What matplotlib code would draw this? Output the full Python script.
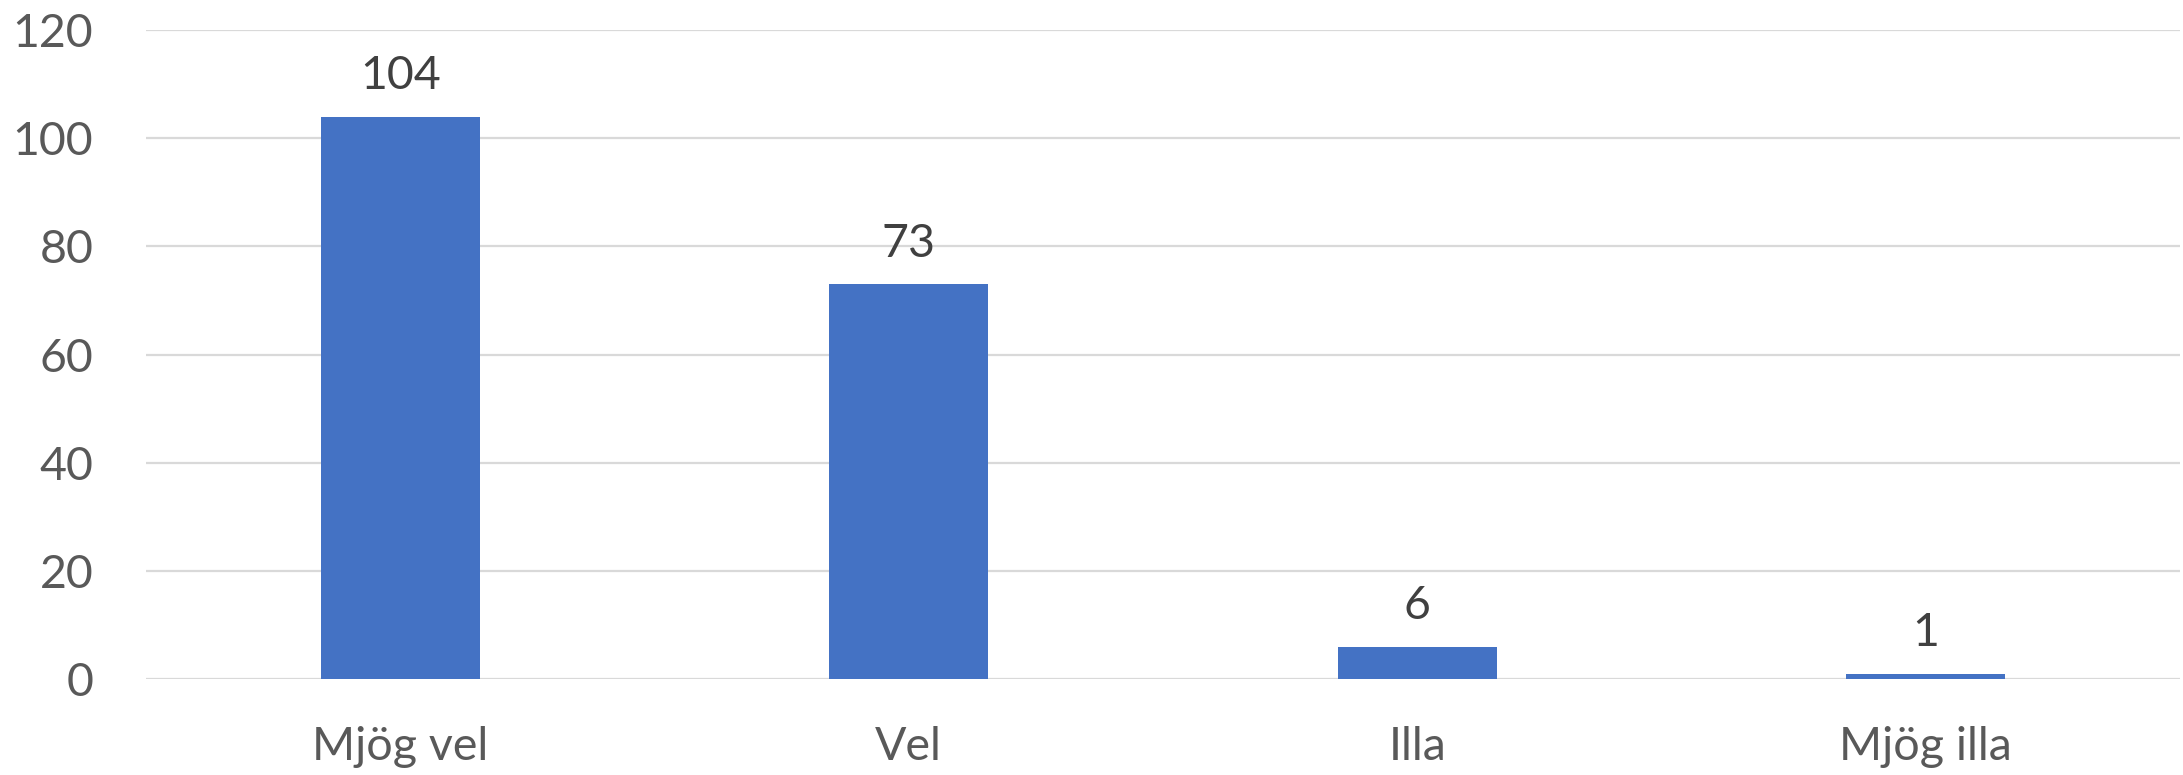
import matplotlib
matplotlib.use("Agg")
import matplotlib.pyplot as plt

categories = ["Mjög vel", "Vel", "Illa", "Mjög illa"]
values = [104, 73, 6, 1]
yticks = [0, 20, 40, 60, 80, 100, 120]

plt.rcParams['font.family'] = ['Lato', 'DejaVu Sans']

fig = plt.figure(figsize=(21.83, 7.75), dpi=100)
ax = fig.add_axes([146/2183, 1 - 679/775, (2180-146)/2183, (679-30)/775])

x = list(range(len(categories)))
bars = ax.bar(x, values, width=0.313, color="#4472C4", zorder=3)
ax.set_xlim(-0.5, len(categories) - 0.5)
ax.set_ylim(0, 120)
ax.set_yticks(yticks)
ax.set_yticklabels([str(t) for t in yticks])
ax.set_xticks(x)
ax.set_xticklabels(categories)
ax.tick_params(axis='both', length=0, labelsize=33.5, colors="#595959")
ax.tick_params(axis='y', pad=38)
ax.tick_params(axis='x', pad=34)
for lab in ax.get_yticklabels():
    lab.set_horizontalalignment('right')
ax.grid(axis='y', color="#d9d9d9", linewidth=1.6, zorder=0)
for s in ax.spines.values():
    s.set_visible(False)

for b, v in zip(bars, values):
    ax.annotate(str(v), (b.get_x() + b.get_width()/2, v), xytext=(0, 14),
                textcoords='offset points', ha='center', va='bottom',
                fontsize=33.5, color="#404040")

fig.savefig("out.png", dpi=100, facecolor="white")
